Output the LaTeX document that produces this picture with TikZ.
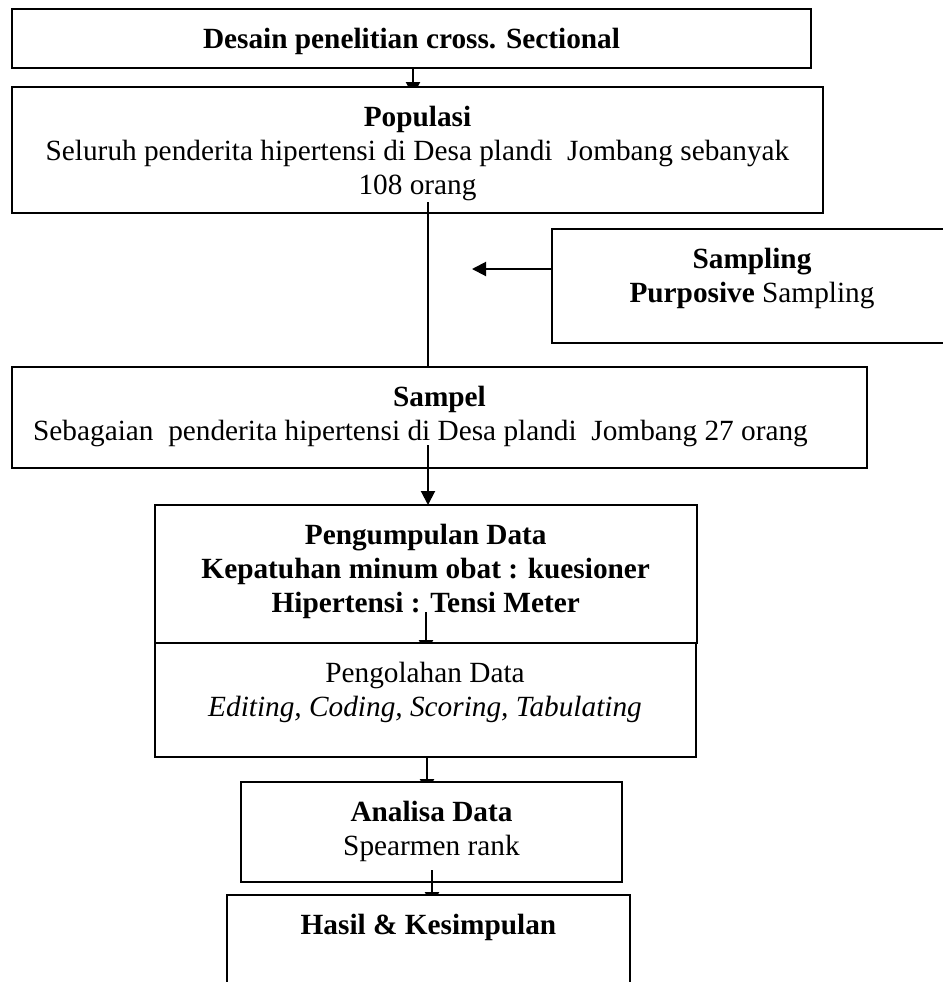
\documentclass[tikz,border=0pt]{standalone}
\usepackage{fontspec}
\setmainfont{Liberation Serif}
\usetikzlibrary{arrows.meta,calc}
\pgfdeclarelayer{bg}
\pgfdeclarelayer{LA}
\pgfdeclarelayer{LB}
\pgfdeclarelayer{LC}
\pgfdeclarelayer{LD}
\pgfdeclarelayer{LE}
\pgfdeclarelayer{LF}
\pgfdeclarelayer{LG}
\pgfdeclarelayer{LH}
\pgfsetlayers{bg,LA,LB,LC,LD,LE,LF,LG,LH,main}
\newcommand{\bxt}[3]{\begin{minipage}[c][#2][t]{#1}\centering\rule{0pt}{19.5pt}#3\end{minipage}}
\tikzset{
  boxtext/.style={inner sep=0pt, outer sep=0pt, font=\fontsize{14.65pt}{17pt}\selectfont},
  flowbox/.style={boxtext, draw=black, line width=1pt, fill=white},
  openbox/.style={boxtext, draw=none, fill=white},
  conn/.style={draw=black, line width=1pt},
  arr/.style={conn, -{Triangle[length=7pt,width=7pt]}},
}
\begin{document}
\begin{tikzpicture}[x=0.5pt,y=-0.5pt]
\begin{pgfonlayer}{bg}
\fill[white] (0,0) rectangle (943,982);
\end{pgfonlayer}
\useasboundingbox (0,0) rectangle (943,982);
\coordinate (xa) at (413,0);
\coordinate (xb) at (428,0);
\coordinate (xc) at (426,0);
\coordinate (xd) at (427,0);
\coordinate (xe) at (432,0);
\coordinate (tipS) at (472,269);

\begin{pgfonlayer}{LA}
\node[flowbox] (desain) at (411.5,38.5) {\bxt{399.5pt}{29.5pt}{\textbf{Desain penelitian cross. Sectional}}};
\end{pgfonlayer}
\begin{pgfonlayer}{LB}
\node[flowbox] (populasi) at (417.5,150) {\bxt{405.5pt}{63pt}{\textbf{Populasi}\\Seluruh penderita hipertensi di Desa plandi\ \ Jombang sebanyak\\108 orang}};
\end{pgfonlayer}
\begin{pgfonlayer}{LC}
\node[openbox] (sampling) at (752,286) {\bxt{200pt}{57pt}{\textbf{Sampling}\\\textbf{Purposive} Sampling}};
\draw[conn] (sampling.north east) -- (sampling.north west) -- (sampling.south west) -- (sampling.south east);
\end{pgfonlayer}
\begin{pgfonlayer}{LD}
\node[flowbox] (sampel) at (439.5,417.5) {\bxt{427.5pt}{50.5pt}{\textbf{Sampel}\\Sebagaian\ \ penderita hipertensi di Desa plandi\ \ Jombang 27 orang\kern19pt}};
\end{pgfonlayer}
\begin{pgfonlayer}{LE}
\node[flowbox] (pengumpulan) at (425.75,574) {\bxt{271.25pt}{69pt}{\textbf{Pengumpulan Data}\\\textbf{Kepatuhan minum obat : kuesioner}\\\textbf{Hipertensi : Tensi Meter}}};
\end{pgfonlayer}
\begin{pgfonlayer}{LF}
\node[flowbox] (pengolahan) at (425,700) {\bxt{270.5pt}{57pt}{Pengolahan Data\\\textit{Editing, Coding, Scoring, Tabulating}}};
\end{pgfonlayer}
\begin{pgfonlayer}{LG}
\node[flowbox] (analisa) at (431.5,832) {\bxt{190.5pt}{50pt}{\textbf{Analisa Data}\\Spearmen rank}};
\end{pgfonlayer}
\begin{pgfonlayer}{LH}
\node[openbox] (hasil) at (428.5,938.5) {\bxt{201.5pt}{43.5pt}{\textbf{Hasil \& Kesimpulan}}};
\draw[conn] (hasil.south west) -- (hasil.north west) -- (hasil.north east) -- (hasil.south east);
\end{pgfonlayer}

\begin{pgfonlayer}{LA}
\draw[arr] (desain.south -| xa) -- ($(populasi.north -| xa)+(0,9)$);
\end{pgfonlayer}
\begin{pgfonlayer}{LB}
\draw[conn] ($(populasi.south -| xb)+(0,-11)$) -- (sampel.north -| xb);
\end{pgfonlayer}
\begin{pgfonlayer}{LC}
\draw[arr] (sampling.west |- tipS) -- (tipS);
\end{pgfonlayer}
\begin{pgfonlayer}{LD}
\draw[arr] ($(sampel.south -| xb)+(0,-23)$) -- (pengumpulan.north -| xb);
\end{pgfonlayer}
\begin{pgfonlayer}{LE}
\draw[arr] ($(pengumpulan.south -| xc)+(0,-31)$) -- ($(pengolahan.north -| xc)+(0,11)$);
\end{pgfonlayer}
\begin{pgfonlayer}{LF}
\draw[arr] (pengolahan.south -| xd) -- ($(analisa.north -| xd)+(0,11)$);
\end{pgfonlayer}
\begin{pgfonlayer}{LG}
\draw[arr] ($(analisa.south -| xe)+(0,-12)$) -- ($(hasil.north -| xe)+(0,11)$);
\end{pgfonlayer}
\end{tikzpicture}
\end{document}
